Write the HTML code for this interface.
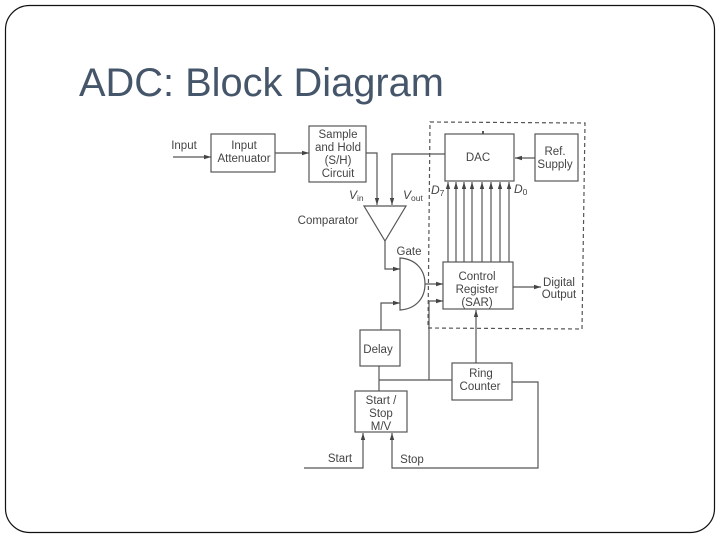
<!DOCTYPE html>
<html><head><meta charset="utf-8"><style>
html,body{margin:0;padding:0;background:#fff;width:720px;height:540px;overflow:hidden}
svg{display:block}
</style></head><body>
<svg width="720" height="540" viewBox="0 0 720 540" xmlns="http://www.w3.org/2000/svg" font-family="'Liberation Sans',sans-serif">
<defs>
<marker id="a" markerWidth="8" markerHeight="6" refX="7" refY="3" orient="auto" markerUnits="userSpaceOnUse"><path d="M0 .8L7 3L0 5.2Z" fill="#444"/></marker>
<filter id="b" filterUnits="userSpaceOnUse" x="0" y="0" width="720" height="540"><feGaussianBlur stdDeviation="0.35"/></filter>
</defs>
<rect x="5.5" y="5.5" width="709" height="527" rx="24" fill="#fff" stroke="#111" stroke-width="1.2"/>
<text x="79" y="96" font-size="39.8" fill="#46566a">ADC: Block Diagram</text>
<g filter="url(#b)">
<g fill="none" stroke="#555" stroke-width="1.2">
<rect x="211" y="134" width="64" height="38"/>
<rect x="309" y="126" width="57" height="56"/>
<rect x="445" y="134" width="69" height="47"/>
<rect x="535" y="134" width="43" height="47"/>
<rect x="443" y="262" width="70" height="47"/>
<rect x="360" y="330" width="40" height="36"/>
<rect x="452" y="363" width="60" height="37"/>
<rect x="355" y="391" width="52" height="41"/>
<path d="M364 206H406L385 241Z"/>
<path d="M400 258C416 259 425 270 425 284C425 298 416 309 400 310Z"/>
<path d="M430 122L585 123L582 329L428 328Z" stroke-dasharray="4 3"/>
<path d="M173 157H211" marker-end="url(#a)"/>
<path d="M275 153H309" marker-end="url(#a)"/>
<path d="M366 153H377V205" marker-end="url(#a)"/>
<path d="M445 154H392V205" marker-end="url(#a)"/>
<path d="M385 241V269H400" marker-end="url(#a)"/>
<path d="M381 330V303H400" marker-end="url(#a)"/>
<path d="M425 284H443" marker-end="url(#a)"/>
<path d="M379 366V391"/>
<path d="M379 380H452"/>
<path d="M429 380V301H443" marker-end="url(#a)"/>
<path d="M476 363V310" marker-end="url(#a)"/>
<path d="M512 382H538V468H392V433" marker-end="url(#a)"/>
<path d="M304 468H363V433" marker-end="url(#a)"/>
<path d="M535 158H515" marker-end="url(#a)"/>
<path d="M513 287H541" marker-end="url(#a)"/>
<path d="M448 262V182" marker-end="url(#a)"/>
<path d="M456 262V182" marker-end="url(#a)"/>
<path d="M464 262V182" marker-end="url(#a)"/>
<path d="M472 262V182" marker-end="url(#a)"/>
<path d="M482 262V182" marker-end="url(#a)"/>
<path d="M491 262V182" marker-end="url(#a)"/>
<path d="M500 262V182" marker-end="url(#a)"/>
<path d="M509 262V182" marker-end="url(#a)"/>
<path d="M483 134V131" stroke-width="2"/>
</g>
<g font-size="11.5" fill="#444" text-anchor="middle">
<text x="184" y="149">Input</text>
<text x="244" y="149">Input</text><text x="244" y="162">Attenuator</text>
<text x="338" y="138">Sample</text><text x="338" y="151">and Hold</text><text x="338" y="164">(S/H)</text><text x="338" y="177">Circuit</text>
<text x="328" y="224">Comparator</text>
<text x="409" y="255">Gate</text>
<text x="478" y="161">DAC</text>
<text x="555" y="155">Ref.</text><text x="555" y="168">Supply</text>
<text x="477" y="280">Control</text><text x="477" y="293">Register</text><text x="477" y="306">(SAR)</text>
<text x="559" y="286">Digital</text><text x="559" y="298">Output</text>
<text x="378" y="353">Delay</text>
<text x="481" y="377">Ring</text><text x="480" y="390">Counter</text>
<text x="381" y="404">Start /</text><text x="381" y="417">Stop</text><text x="381" y="430">M/V</text>
<text x="340" y="462">Start</text>
<text x="412" y="463">Stop</text>
</g>
<g font-size="12" fill="#444">
<text x="349" y="199" font-style="italic">V<tspan font-size="8.5" font-style="normal" dy="2">in</tspan></text>
<text x="403" y="199" font-style="italic">V<tspan font-size="8.5" font-style="normal" dy="2">out</tspan></text>
<text x="431" y="194" font-style="italic">D<tspan font-size="8.5" font-style="normal" dy="2">7</tspan></text>
<text x="514" y="193" font-style="italic">D<tspan font-size="8.5" font-style="normal" dy="2">0</tspan></text>
</g>
</g>
</svg>
</body></html>
